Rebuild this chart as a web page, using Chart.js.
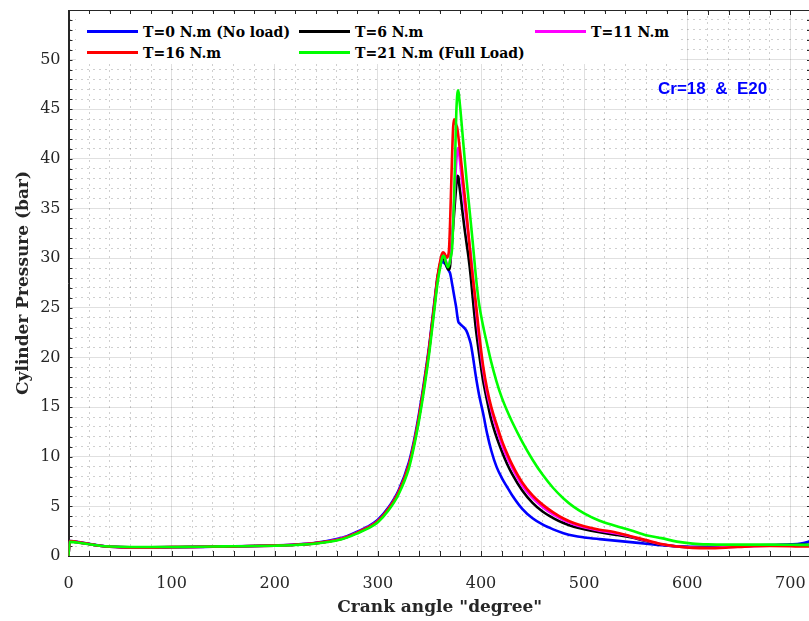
<!DOCTYPE html>
<html><head><meta charset="utf-8">
<script src="https://cdn.jsdelivr.net/npm/chart.js@4.4.1/dist/chart.umd.min.js"></script>
<style>
html,body{margin:0;padding:0;background:#fff;overflow:hidden;}
#wrap{position:relative;width:811px;height:621px;}
#legend{position:absolute;left:76px;top:14px;width:604px;height:50px;background:#fff;}
.item{position:absolute;display:flex;align-items:center;height:20px;font:bold 14px "DejaVu Serif";color:#000;white-space:nowrap;}
.item .ln{display:inline-block;width:51px;height:3px;margin-right:5px;}
#note{position:absolute;left:658px;top:80px;font:bold 17px "Liberation Sans";color:#0000ff;white-space:pre;line-height:17px;}
</style></head>
<body><div id="wrap"><canvas id="c" width="811" height="621"></canvas><div id="legend"></div><div id="note">Cr=18  &amp;  E20</div></div>
<script>
// Crank angle (degree)
const crank = [0,1,5,10,20, 30,40,60,80,100, 120,140,160,180,200, 220,240,260,270,280,
  290,300,310,320,330, 335,340,345,350,355, 358,361,362,363,364, 365,366,367,368,369,
  370,371,372,373,374, 375,376,377,378,379, 380,382,384,386,388, 390,392,395,398,402,
  406,410,415,420,425, 430,440,450,460,470, 480,490,500,515,530, 545,560,575,590,605,
  620,640,660,680,700, 710,720];

const seriesNames = ["T=0 N.m (No load)", "T=6 N.m", "T=11 N.m", "T=16 N.m", "T=21 N.m (Full Load)"];
const seriesColors = ["#0000ff", "#000000", "#ff00ff", "#ff0000", "#00ff00"];

const pT0 = [0,1.5,1.48,1.4,1.22, 1.05,0.93,0.85,0.85,0.88, 0.9,0.94,0.97,1.01,1.07, 1.16,1.34,1.7,2.0,2.45,
  2.95,3.65,4.85,6.6,9.4, 11.6,14.4,17.7,21.4,25.8, 28.2,29.4,29.6,29.65,29.55, 29.45,29.3,29.1,28.9,28.7,
  28.5,28.0,27.4,26.8,26.2, 25.6,25.0,24.2,23.6,23.45, 23.35,23.15,22.95,22.65,22.1, 21.4,20.2,18.1,16.3,14.4,
  12.3,10.6,9.0,7.9,7.0, 6.15,4.75,3.8,3.15,2.68, 2.3,2.03,1.87,1.7,1.55, 1.4,1.24,1.08,0.98,0.92,
  0.92,0.98,1.05,1.1,1.17, 1.25,1.5];

const pT6 = [0,1.45,1.43,1.36,1.2, 1.04,0.95,0.88,0.88,0.9, 0.92,0.95,0.98,1.0,1.05, 1.13,1.3,1.62,1.92,2.35,
  2.85,3.5,4.7,6.4,9.1, 11.3,14.0,17.3,21.0,25.4, 28.0,29.7,29.95,30.05,29.95, 29.7,29.4,29.1,28.9,28.85,
  29.2,30.5,31.8,33.2,34.6, 36.0,37.3,38.3,38.2,37.3, 36.5,34.7,33.0,31.5,30.0, 28.2,26.0,22.9,20.5,17.7,
  15.6,13.7,12.0,10.6,9.35, 8.3,6.6,5.35,4.45,3.82, 3.32,2.95,2.7,2.4,2.15, 1.9,1.5,1.15,0.95,0.88,
  0.86,0.93,1.02,1.08,1.1, 1.12,1.14];

const pT11 = [0,1.47,1.45,1.37,1.2, 1.04,0.95,0.87,0.87,0.9, 0.92,0.95,0.98,1.0,1.05, 1.13,1.3,1.63,1.93,2.37,
  2.87,3.52,4.72,6.42,9.1, 11.3,14.0,17.3,21.0,25.4, 28.0,29.8,30.15,30.3,30.25, 30.0,29.7,29.4,29.3,29.35,
  29.7,30.6,32.0,33.8,35.8, 37.9,39.7,40.8,41.1,40.4, 39.4,37.4,35.5,33.8,32.1, 30.4,28.3,25.0,22.0,18.8,
  16.4,14.7,12.9,11.3,10.0, 8.95,7.1,5.85,4.92,4.18, 3.62,3.2,2.9,2.55,2.3, 1.97,1.55,1.18,0.96,0.86,
  0.83,0.9,0.99,1.04,1.05, 1.05,1.06];

const pT16 = [0,1.5,1.47,1.38,1.2, 1.03,0.93,0.86,0.86,0.89, 0.91,0.94,0.97,1.0,1.05, 1.13,1.3,1.62,1.92,2.35,
  2.85,3.5,4.7,6.4,9.1, 11.3,14.1,17.4,21.2,25.6, 28.3,30.0,30.4,30.6,30.55, 30.4,30.2,30.05,30.2,30.9,
  33.5,37.0,40.5,43.2,44.0, 43.8,43.4,43.1,42.3,41.4, 40.5,38.5,36.5,34.5,32.3, 30.0,28.1,25.5,22.6,19.2,
  16.8,15.0,13.3,11.7,10.4, 9.25,7.4,6.1,5.15,4.4, 3.78,3.32,3.0,2.65,2.4, 2.0,1.6,1.2,0.95,0.82,
  0.78,0.85,0.97,1.0,0.98, 0.96,0.95];

const pT21 = [0,1.42,1.4,1.33,1.18, 1.03,0.95,0.9,0.9,0.91, 0.93,0.95,0.98,1.0,1.04, 1.11,1.26,1.56,1.85,2.27,
  2.75,3.4,4.55,6.2,8.8, 11.0,13.7,16.9,20.6,25.0, 27.6,29.4,29.9,30.2,30.25, 30.0,29.6,29.3,29.1,29.3,
  29.8,30.3,31.0,33.5,36.5, 40.5,44.5,46.5,46.9,46.0, 45.0,42.6,40.2,37.9,35.8, 33.7,31.6,28.2,25.5,23.2,
  21.3,19.5,17.6,16.0,14.7, 13.55,11.5,9.7,8.15,6.85, 5.8,4.95,4.3,3.55,3.05, 2.6,2.1,1.8,1.45,1.25,
  1.17,1.15,1.15,1.15,1.13, 1.12,1.12];

const seriesValues = [pT0, pT6, pT11, pT16, pT21];

// axis tick labels
const xTickLabels = [0,100,200,300,400,500,600,700];
const yTickLabels = [0,5,10,15,20,25,30,35,40,45,50];

const datasets = seriesValues.map((vals, i) => ({
  label: seriesNames[i],
  data: crank.map((x, k) => ({x: x, y: vals[k]})),
  borderColor: seriesColors[i],
  backgroundColor: seriesColors[i],
  borderWidth: 2.6,
  pointRadius: 0,
  cubicInterpolationMode: 'monotone',
  fill: false,
  order: seriesValues.length - 1 - i
}));

// legend (HTML overlay)
const legendPos = [[11, 7.7], [223, 7.7], [459, 7.7], [11, 28.7], [223, 28.7]];
const lg = document.getElementById('legend');
seriesNames.forEach((n, i) => {
  const d = document.createElement('div');
  d.className = 'item';
  d.style.left = legendPos[i][0] + 'px';
  d.style.top = legendPos[i][1] + 'px';
  d.innerHTML = '<span class="ln" style="background:' + seriesColors[i] + '"></span><span></span>';
  d.lastChild.textContent = n;
  lg.appendChild(d);
});

const frame = {
  id: 'frame',
  beforeDatasetsDraw(chart) {
    const {ctx, chartArea: a, scales: {x, y}} = chart;
    ctx.save();
    ctx.strokeStyle = '#262626';
    ctx.lineWidth = 1;
    ctx.beginPath();
    x.ticks.forEach(t => {
      const p = Math.round(x.getPixelForValue(t.value)) + 0.5;
      ctx.moveTo(p, a.bottom); ctx.lineTo(p, a.bottom - 5);
      ctx.moveTo(p, a.top); ctx.lineTo(p, a.top + 5);
    });
    y.ticks.forEach(t => {
      const p = Math.round(y.getPixelForValue(t.value)) + 0.5;
      ctx.moveTo(a.left, p); ctx.lineTo(a.left + 4, p);
      ctx.moveTo(a.right, p); ctx.lineTo(a.right - 4, p);
    });
    ctx.stroke();
    ctx.strokeRect(Math.round(a.left) + 0.5, Math.round(a.top) + 0.5, Math.round(a.right - a.left), Math.round(a.bottom - a.top));
    ctx.restore();
  }
};

const isMajorX = v => xTickLabels.includes(v);
const isMajorY = v => yTickLabels.includes(v) || v === 55;
const noPad = s => { s.paddingTop = 0; s.paddingBottom = 0; s.paddingLeft = 0; s.paddingRight = 0; };

new Chart(document.getElementById('c'), {
  type: 'line',
  data: {datasets},
  plugins: [frame],
  options: {
    responsive: false,
    animation: false,
    devicePixelRatio: 1,
    layout: {padding: {top: 10, right: 0, left: 0, bottom: 0}},
    plugins: {legend: {display: false}, tooltip: {enabled: false}},
    scales: {
      x: {
        type: 'linear', min: 0, max: 720,
        afterFit(s) { s.height = 65; noPad(s); },
        ticks: {
          stepSize: 20, autoSkip: false, maxRotation: 0, padding: 18,
          color: '#262626', font: {family: 'DejaVu Serif', size: 16},
          callback: v => isMajorX(v) ? String(v) : ''
        },
        grid: {
          drawTicks: false,
          lineWidth: 1,
          color: c => (c.tick && isMajorX(c.tick.value)) ? 'rgba(38,38,38,0.14)' : 'rgba(38,38,38,0.22)'
        },
        border: {
          display: true, color: '#262626', width: 1,
          dash: c => (c.tick && !isMajorX(c.tick.value)) ? [2, 4] : []
        },
        title: {
          display: true, text: 'Crank angle "degree"', color: '#262626',
          font: {family: 'DejaVu Serif', size: 17, weight: 'bold'},
          padding: {top: 0, bottom: 3}
        }
      },
      y: {
        type: 'linear', min: 0, max: 55,
        afterFit(s) { s.width = 68.5; noPad(s); },
        ticks: {
          stepSize: 1, autoSkip: false, padding: 8,
          color: '#262626', font: {family: 'DejaVu Serif', size: 16},
          callback: v => yTickLabels.includes(v) ? String(v) : ''
        },
        grid: {
          drawTicks: false,
          lineWidth: 1,
          color: c => (c.tick && isMajorY(c.tick.value)) ? 'rgba(38,38,38,0.14)' : 'rgba(38,38,38,0.22)'
        },
        border: {
          display: true, color: '#262626', width: 1,
          dash: c => (c.tick && !isMajorY(c.tick.value)) ? [2, 4] : []
        },
        title: {
          display: true, text: 'Cylinder Pressure (bar)', color: '#262626',
          font: {family: 'DejaVu Serif', size: 17, weight: 'bold'},
          padding: {top: 13, bottom: 0}
        }
      }
    }
  }
});
</script>
</body></html>
